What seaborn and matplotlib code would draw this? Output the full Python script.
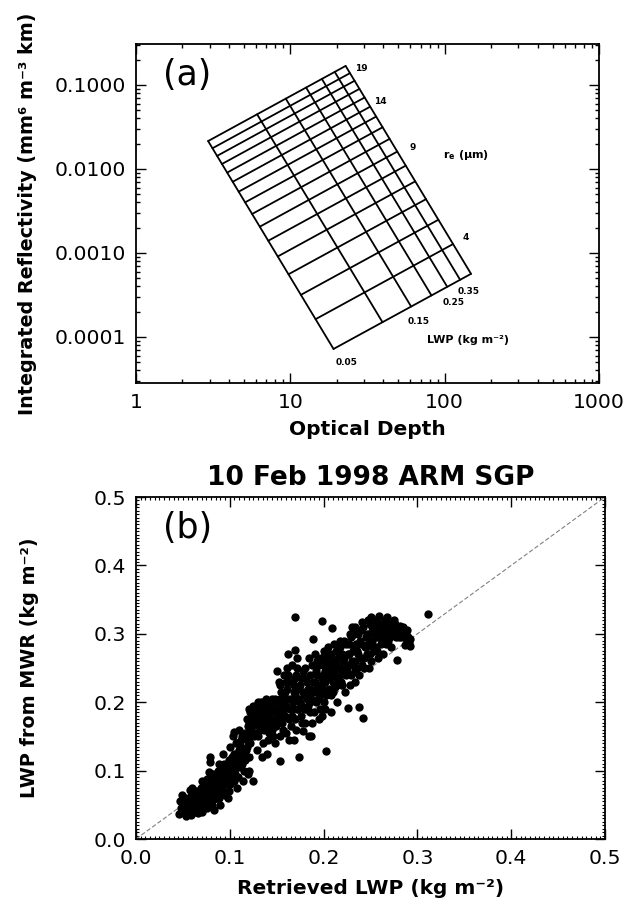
import numpy as np
import pandas as pd
import matplotlib
matplotlib.use("Agg")
import matplotlib.pyplot as plt
import seaborn as sns
from matplotlib.ticker import FixedLocator, FixedFormatter, MultipleLocator, LogLocator, NullFormatter

# ---------------- Panel (a): nomogram -----------------
lwp_levels = [0.05, 0.10, 0.15, 0.20, 0.25, 0.30, 0.35]
re_levels = [4, 5, 6, 7, 8, 9, 10, 11, 12, 13, 14, 15, 16, 17, 18, 19]
# grid corner nodes
corner_lwp = [0.05, 0.35, 0.05, 0.35]
corner_re = [4, 4, 19, 19]
corner_tau = [19.2, 147.0, 2.91, 23.0]
corner_z = [7.0e-5, 5.8e-4, 2.21e-2, 1.64e-1]
# in-plot labels
re_label_text = ["19", "14", "9", "4"]
re_label_tau = [28.7, 38.1, 62.2, 136.6]
re_label_z = [0.159, 0.0628, 0.0178, 0.00151]
lwp_label_text = ["0.05", "0.15", "0.25", "0.35"]
lwp_label_tau = [23.3, 67.9, 114.0, 144.0]
lwp_label_z = [4.9e-5, 1.51e-4, 2.54e-4, 3.43e-4]
a_xticks = [1, 10, 100, 1000]
a_xticklabels = ["1", "10", "100", "1000"]
a_yticks = [1e-4, 1e-3, 1e-2, 1e-1]
a_yticklabels = ["0.0001", "0.0010", "0.0100", "0.1000"]

# ---------------- Panel (b): scatter -----------------
lwp_retrieved = [
    0.046, 0.048, 0.047, 0.050, 0.051, 0.052, 0.053, 0.054, 0.055, 0.049,
    0.056, 0.057, 0.058, 0.059, 0.060, 0.061, 0.062, 0.063, 0.064, 0.065, 0.060, 0.058,
    0.066, 0.067, 0.068, 0.069, 0.070, 0.071, 0.072, 0.073, 0.074, 0.070, 0.066, 0.075,
    0.076, 0.077, 0.078, 0.079, 0.080, 0.081, 0.082, 0.083, 0.084, 0.085, 0.079, 0.083, 0.078,
    0.086, 0.087, 0.088, 0.089, 0.090, 0.091, 0.092, 0.093, 0.094, 0.095, 0.088, 0.090,
    0.096, 0.097, 0.098, 0.099, 0.100, 0.101, 0.102, 0.103, 0.104, 0.105, 0.100, 0.098,
    0.106, 0.107, 0.108, 0.109, 0.110, 0.111, 0.112, 0.113, 0.114, 0.115, 0.110, 0.108,
    0.116, 0.117, 0.118, 0.119, 0.120, 0.121, 0.122, 0.123, 0.124, 0.125, 0.120, 0.118,
    0.126, 0.127, 0.128, 0.129, 0.130, 0.131, 0.132, 0.133, 0.134, 0.135, 0.128, 0.131,
    0.136, 0.137, 0.138, 0.139, 0.140, 0.141, 0.142, 0.143, 0.144, 0.145, 0.137, 0.142,
    0.146, 0.147, 0.148, 0.149, 0.150, 0.151, 0.152, 0.153, 0.154, 0.155, 0.150, 0.148,
    0.156, 0.157, 0.158, 0.159, 0.160, 0.161, 0.162, 0.163, 0.164, 0.165, 0.158, 0.160,
    0.166, 0.167, 0.168, 0.169, 0.170, 0.170, 0.171, 0.172, 0.173, 0.174, 0.175, 0.168, 0.172,
    0.176, 0.177, 0.178, 0.179, 0.180, 0.181, 0.182, 0.183, 0.184, 0.185, 0.180, 0.178,
    0.186, 0.187, 0.188, 0.189, 0.190, 0.191, 0.192, 0.193, 0.194, 0.195, 0.188, 0.192,
    0.196, 0.197, 0.198, 0.199, 0.200, 0.201, 0.202, 0.203, 0.204, 0.205, 0.200, 0.198,
    0.206, 0.207, 0.208, 0.209, 0.210, 0.211, 0.212, 0.213, 0.214, 0.215, 0.208, 0.212,
    0.216, 0.217, 0.218, 0.219, 0.220, 0.221, 0.222, 0.223, 0.224, 0.225, 0.226, 0.220,
    0.226, 0.227, 0.228, 0.229, 0.230, 0.231, 0.232, 0.233, 0.234, 0.235, 0.230, 0.228,
    0.236, 0.237, 0.238, 0.239, 0.240, 0.241, 0.242, 0.243, 0.244, 0.245, 0.238, 0.241,
    0.246, 0.247, 0.248, 0.249, 0.250, 0.251, 0.252, 0.253, 0.254, 0.255, 0.248,
    0.256, 0.257, 0.258, 0.259, 0.260, 0.261, 0.262, 0.263, 0.264, 0.265, 0.258,
    0.266, 0.267, 0.268, 0.269, 0.270, 0.271, 0.272, 0.273, 0.274, 0.275, 0.270,
    0.276, 0.277, 0.278, 0.279, 0.280, 0.281, 0.282, 0.283, 0.284, 0.285,
    0.286, 0.287, 0.288, 0.289, 0.290, 0.291,
    0.311, 0.105, 0.079,
]
lwp_mwr = [
    0.036, 0.045, 0.055, 0.040, 0.050, 0.060, 0.034, 0.045, 0.055, 0.065,
    0.040, 0.050, 0.062, 0.035, 0.045, 0.055, 0.068, 0.040, 0.050, 0.060, 0.075, 0.072,
    0.045, 0.055, 0.065, 0.075, 0.040, 0.050, 0.060, 0.070, 0.080, 0.085, 0.038, 0.055,
    0.045, 0.060, 0.070, 0.080, 0.090, 0.050, 0.065, 0.075, 0.085, 0.060, 0.120, 0.043, 0.098,
    0.070, 0.080, 0.095, 0.060, 0.075, 0.090, 0.105, 0.125, 0.085, 0.065, 0.110, 0.050,
    0.080, 0.095, 0.110, 0.070, 0.090, 0.105, 0.120, 0.150, 0.085, 0.100, 0.135, 0.060,
    0.110, 0.125, 0.140, 0.090, 0.105, 0.120, 0.135, 0.150, 0.085, 0.100, 0.160, 0.075,
    0.115, 0.130, 0.145, 0.165, 0.100, 0.120, 0.140, 0.160, 0.180, 0.085, 0.190, 0.175,
    0.170, 0.185, 0.195, 0.130, 0.150, 0.165, 0.180, 0.200, 0.120, 0.140, 0.155, 0.190,
    0.160, 0.175, 0.190, 0.205, 0.125, 0.145, 0.170, 0.185, 0.200, 0.160, 0.202, 0.155,
    0.175, 0.190, 0.205, 0.165, 0.180, 0.195, 0.230, 0.114, 0.150, 0.215, 0.245, 0.140,
    0.170, 0.185, 0.200, 0.215, 0.230, 0.250, 0.270, 0.145, 0.190, 0.165, 0.240, 0.155,
    0.180, 0.200, 0.215, 0.235, 0.324, 0.276, 0.160, 0.190, 0.205, 0.120, 0.225, 0.145, 0.250,
    0.180, 0.195, 0.246, 0.210, 0.170, 0.190, 0.205, 0.220, 0.150, 0.185, 0.235, 0.158,
    0.200, 0.151, 0.215, 0.293, 0.185, 0.230, 0.245, 0.260, 0.205, 0.175, 0.170, 0.220,
    0.210, 0.225, 0.318, 0.240, 0.255, 0.190, 0.270, 0.129, 0.215, 0.235, 0.200, 0.180,
    0.250, 0.265, 0.210, 0.308, 0.230, 0.245, 0.260, 0.275, 0.200, 0.235, 0.185, 0.222,
    0.250, 0.265, 0.280, 0.230, 0.245, 0.260, 0.290, 0.215, 0.240, 0.255, 0.192, 0.270,
    0.270, 0.285, 0.300, 0.240, 0.255, 0.275, 0.300, 0.230, 0.260, 0.285, 0.310, 0.225,
    0.250, 0.270, 0.193, 0.290, 0.305, 0.317, 0.177, 0.265, 0.280, 0.295, 0.240, 0.255,
    0.270, 0.285, 0.300, 0.315, 0.260, 0.324, 0.290, 0.305, 0.275, 0.315, 0.250,
    0.280, 0.295, 0.310, 0.326, 0.300, 0.285, 0.315, 0.270, 0.305, 0.295, 0.265,
    0.310, 0.300, 0.325, 0.290, 0.305, 0.315, 0.280, 0.300, 0.310, 0.320, 0.295,
    0.300, 0.310, 0.261, 0.305, 0.295, 0.312, 0.300, 0.308, 0.298, 0.305,
    0.295, 0.283, 0.300, 0.290, 0.296, 0.287,
    0.329, 0.156, 0.112,
]
# further points of the dense band: (retrieved LWP, MWR LWP)
dense_points = [
    (0.048, 0.040), (0.050, 0.046), (0.052, 0.052), (0.053, 0.042), (0.055, 0.048),
    (0.056, 0.058), (0.057, 0.044), (0.059, 0.052), (0.060, 0.064), (0.061, 0.040),
    (0.062, 0.058), (0.063, 0.047), (0.064, 0.070), (0.065, 0.043), (0.066, 0.052),
    (0.067, 0.062), (0.068, 0.048), (0.069, 0.058), (0.070, 0.068), (0.071, 0.078),
    (0.072, 0.045), (0.073, 0.055), (0.074, 0.065), (0.075, 0.075), (0.076, 0.088),
    (0.077, 0.052), (0.078, 0.062), (0.080, 0.072), (0.081, 0.082), (0.082, 0.095),
    (0.083, 0.058), (0.085, 0.070), (0.086, 0.090), (0.087, 0.100), (0.088, 0.065),
    (0.089, 0.085), (0.091, 0.080), (0.092, 0.095), (0.093, 0.070), (0.094, 0.110),
    (0.096, 0.090), (0.097, 0.100), (0.099, 0.115), (0.100, 0.080), (0.101, 0.095),
    (0.103, 0.110), (0.104, 0.125), (0.106, 0.095), (0.107, 0.140), (0.109, 0.115),
    (0.110, 0.130), (0.112, 0.145), (0.113, 0.110), (0.115, 0.125), (0.116, 0.155),
    (0.118, 0.135), (0.119, 0.095), (0.120, 0.150), (0.121, 0.170), (0.122, 0.185),
    (0.124, 0.165), (0.125, 0.195), (0.126, 0.150), (0.127, 0.175), (0.129, 0.185),
    (0.130, 0.200), (0.132, 0.160), (0.133, 0.170), (0.134, 0.190), (0.135, 0.180),
    (0.136, 0.195), (0.138, 0.170), (0.139, 0.180), (0.140, 0.195), (0.141, 0.160),
    (0.143, 0.175), (0.144, 0.190), (0.145, 0.205), (0.146, 0.150), (0.147, 0.165),
    (0.149, 0.185), (0.150, 0.200), (0.151, 0.170), (0.152, 0.185), (0.153, 0.205),
    (0.154, 0.225), (0.155, 0.175), (0.156, 0.190), (0.157, 0.160), (0.158, 0.210),
    (0.159, 0.180), (0.160, 0.195), (0.161, 0.220), (0.162, 0.240), (0.163, 0.175),
    (0.164, 0.205), (0.165, 0.230), (0.166, 0.255), (0.167, 0.190), (0.168, 0.225),
    (0.169, 0.175), (0.170, 0.210), (0.171, 0.240), (0.172, 0.265), (0.173, 0.190),
    (0.174, 0.220), (0.175, 0.200), (0.176, 0.235), (0.177, 0.170), (0.178, 0.215),
    (0.179, 0.190), (0.180, 0.250), (0.181, 0.210), (0.182, 0.230), (0.183, 0.195),
    (0.184, 0.265), (0.185, 0.220), (0.186, 0.240), (0.187, 0.205), (0.188, 0.255),
    (0.189, 0.230), (0.190, 0.215), (0.191, 0.270), (0.192, 0.200), (0.193, 0.240),
    (0.194, 0.225), (0.195, 0.255), (0.196, 0.190), (0.197, 0.265), (0.198, 0.235),
    (0.199, 0.220), (0.200, 0.275), (0.201, 0.245), (0.202, 0.230), (0.203, 0.210),
    (0.204, 0.260), (0.205, 0.280), (0.206, 0.220), (0.207, 0.240), (0.208, 0.270),
    (0.209, 0.255), (0.210, 0.215), (0.211, 0.285), (0.212, 0.240), (0.213, 0.255),
    (0.214, 0.225), (0.215, 0.265), (0.216, 0.235), (0.217, 0.290), (0.218, 0.250),
    (0.219, 0.270), (0.220, 0.225), (0.222, 0.265), (0.224, 0.285), (0.225, 0.245),
    (0.227, 0.270), (0.229, 0.295), (0.230, 0.260), (0.232, 0.280), (0.233, 0.310),
    (0.234, 0.245), (0.236, 0.275), (0.237, 0.300), (0.239, 0.265), (0.240, 0.285),
    (0.242, 0.310), (0.243, 0.250), (0.245, 0.280), (0.246, 0.300), (0.247, 0.320),
    (0.249, 0.270), (0.250, 0.290), (0.252, 0.310), (0.253, 0.280), (0.255, 0.300),
    (0.256, 0.320), (0.257, 0.275), (0.259, 0.295), (0.260, 0.315), (0.262, 0.290),
    (0.263, 0.305), (0.265, 0.320), (0.266, 0.285), (0.268, 0.300), (0.269, 0.315),
    (0.271, 0.295), (0.272, 0.310), (0.274, 0.300), (0.276, 0.315), (0.277, 0.295),
    (0.279, 0.310), (0.281, 0.300), (0.283, 0.295), (0.285, 0.310), (0.287, 0.300),
    (0.289, 0.305), (0.292, 0.292), (0.292, 0.282),
]
b_ticks = [0.0, 0.1, 0.2, 0.3, 0.4, 0.5]
b_ticklabels = ["0.0", "0.1", "0.2", "0.3", "0.4", "0.5"]
one_to_one = [0.0, 0.5]

# ---------------- style -----------------
sns.set_style("ticks")
plt.rcParams["font.family"] = ["DejaVu Sans"]
plt.rcParams["mathtext.default"] = "regular"
plt.rcParams["text.color"] = "black"
plt.rcParams["axes.labelcolor"] = "black"
plt.rcParams["axes.titlecolor"] = "black"
plt.rcParams["xtick.color"] = "black"
plt.rcParams["ytick.color"] = "black"

fig = plt.figure(figsize=(6.25, 9.05), dpi=100)
W, H = 625.0, 905.0
ax_a = fig.add_axes([136 / W, 1 - 383 / H, 463 / W, 339 / H])
ax_b = fig.add_axes([136 / W, 1 - 839 / H, 469 / W, 342 / H])

TICK_FS = 14.7
LABEL_FS = 14.5
YLABEL_FS = 13.8


def style_axis(ax):
    for sp in ax.spines.values():
        sp.set_linewidth(1.3)
        sp.set_color("black")
    ax.tick_params(which="both", direction="in", top=True, right=True,
                   colors="black", labelcolor="black", width=1.0)
    ax.tick_params(which="major", length=7, labelsize=TICK_FS, pad=7)
    ax.tick_params(which="minor", length=3)


# --- panel (a) grid from corner nodes (power law / linear in log space)
A = np.column_stack([np.ones(4), np.log10(corner_lwp), np.log10(corner_re)])
c_tau, *_ = np.linalg.lstsq(A, np.log10(corner_tau), rcond=None)
c_z, *_ = np.linalg.lstsq(A, np.log10(corner_z), rcond=None)


def node(lwp, re):
    v = np.array([1.0, np.log10(lwp), np.log10(re)])
    return 10 ** (v @ c_tau), 10 ** (v @ c_z)


rows = []
for lw in lwp_levels:
    for r in re_levels:
        t, z = node(lw, r)
        rows.append({"line": f"L{lw}", "tau": t, "z": z})
for r in re_levels:
    for lw in lwp_levels:
        t, z = node(lw, r)
        rows.append({"line": f"R{r}", "tau": t, "z": z})
grid_df = pd.DataFrame(rows)

ax_a.set_xscale("log")
ax_a.set_yscale("log")
sns.lineplot(data=grid_df, x="tau", y="z", units="line", estimator=None,
             sort=False, color="black", linewidth=1.3, legend=False, ax=ax_a)
ax_a.set_xlim(1, 1000)
ax_a.set_ylim(2.83e-5, 0.3076)
style_axis(ax_a)
ax_a.xaxis.set_major_locator(FixedLocator(a_xticks))
ax_a.xaxis.set_major_formatter(FixedFormatter(a_xticklabels))
ax_a.xaxis.set_minor_locator(LogLocator(base=10, subs=np.arange(2, 10)))
ax_a.xaxis.set_minor_formatter(NullFormatter())
ax_a.yaxis.set_major_locator(FixedLocator(a_yticks))
ax_a.yaxis.set_major_formatter(FixedFormatter(a_yticklabels))
ax_a.yaxis.set_minor_locator(LogLocator(base=10, subs=np.arange(2, 10)))
ax_a.yaxis.set_minor_formatter(NullFormatter())
ax_a.set_xlabel("Optical Depth", fontsize=LABEL_FS, fontweight="bold", labelpad=6)
ax_a.set_ylabel("Integrated Reflectivity (mm⁶ m⁻³ km)", fontsize=YLABEL_FS,
                fontweight="bold")
ax_a.yaxis.set_label_coords(-0.213, 0.5)

for t, x, y in zip(re_label_text, re_label_tau, re_label_z):
    ax_a.text(x, y, t, fontsize=6.5, fontweight="bold", ha="center", va="center")
for t, x, y in zip(lwp_label_text, lwp_label_tau, lwp_label_z):
    ax_a.text(x, y, t, fontsize=6.5, fontweight="bold", ha="center", va="center")
ax_a.text(136.6, 0.0147, r"r$_e$ ($\mu$m)", fontsize=8, fontweight="bold",
          ha="center", va="center")
ax_a.text(76.6, 9.2e-5, "LWP (kg m⁻²)", fontsize=8, fontweight="bold",
          ha="left", va="center")
ax_a.text(0.058, 0.91, "(a)", transform=ax_a.transAxes, fontsize=25,
          ha="left", va="center")

# --- panel (b)
scatter_df = pd.DataFrame({
    "retrieved": list(lwp_retrieved) + [p[0] for p in dense_points],
    "mwr": list(lwp_mwr) + [p[1] for p in dense_points],
})
ax_b.plot(one_to_one, one_to_one, linestyle=(0, (4, 2)), color="0.5",
          linewidth=0.8, zorder=1)
sns.scatterplot(data=scatter_df, x="retrieved", y="mwr", color="black", s=36,
                linewidth=0, ax=ax_b, zorder=2)
ax_b.set_xlim(0, 0.5)
ax_b.set_ylim(0, 0.5)
style_axis(ax_b)
ax_b.xaxis.set_major_locator(FixedLocator(b_ticks))
ax_b.xaxis.set_major_formatter(FixedFormatter(b_ticklabels))
ax_b.yaxis.set_major_locator(FixedLocator(b_ticks))
ax_b.yaxis.set_major_formatter(FixedFormatter(b_ticklabels))
ax_b.xaxis.set_minor_locator(MultipleLocator(0.005))
ax_b.yaxis.set_minor_locator(MultipleLocator(0.005))
ax_b.tick_params(which="minor", length=2.5, width=0.8)
ax_b.set_xlabel("Retrieved LWP (kg m⁻²)", fontsize=LABEL_FS, fontweight="bold",
                labelpad=8)
ax_b.set_ylabel("LWP from MWR (kg m⁻²)", fontsize=YLABEL_FS, fontweight="bold")
ax_b.yaxis.set_label_coords(-0.207, 0.5)
ax_b.set_title("10 Feb 1998 ARM SGP", fontsize=19, fontweight="bold", pad=9,
               color="black")
ax_b.text(0.058, 0.91, "(b)", transform=ax_b.transAxes, fontsize=25,
          ha="left", va="center")

fig.savefig("out.png", dpi=100)
